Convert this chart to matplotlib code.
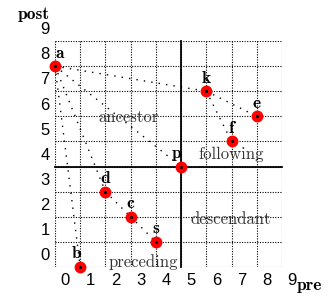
import numpy as np
import matplotlib
matplotlib.use("Agg")
import matplotlib.pyplot as plt

# nodes of the tree with their (pre, post) rank
nodes = ['a', 'b', 'd', 'c', 's', 'p', 'k', 'f', 'e']
pre = [0, 1, 2, 3, 4, 5, 6, 7, 8]
post = [8, 0, 3, 2, 1, 4, 7, 5, 6]

# parent -> child edges
edges = [('a', 'b'), ('a', 'd'), ('a', 'p'), ('a', 'k'),
         ('d', 'c'), ('c', 's'), ('k', 'f'), ('k', 'e')]

# context node
ctx = 'p'

regions = ['ancestor', 'following', 'descendant', 'preceding']
region_x = [2.9, 7.0, 6.95, 3.5]
region_y = [5.95, 4.5, 1.9, 0.2]

ticks = list(range(10))

pos = {n: (x, y) for n, x, y in zip(nodes, pre, post)}

# small horizontal nudges for a few node labels
label_dx = {'a': 0.2, 'b': -0.15, 'p': -0.2}

fig = plt.figure(figsize=(3.3, 2.97), dpi=100)
ax = fig.add_axes([55 / 330, 30 / 297, 227 / 330, 226 / 297])
ax.set_xlim(0, 9)
ax.set_ylim(0, 9)
ax.axis('off')

# dotted grid
ax.vlines(ticks, 0, 9, colors='black', linestyles=(0, (1, 1.3)), linewidth=0.8)
ax.hlines(ticks, 0, 9, colors='black', linestyles=(0, (1, 1.3)), linewidth=0.8)

# axes through the context node
cx, cy = pos[ctx]
ax.plot([cx, cx], [0, 9], color='black', linewidth=1.3, clip_on=False)
ax.plot([0, 9], [cy, cy], color='black', linewidth=1.3, clip_on=False)

# tree edges
for u, v in edges:
    ax.plot([pos[u][0], pos[v][0]], [pos[u][1], pos[v][1]], color='black',
            linestyle=(0, (1, 4.4)), linewidth=1.0, clip_on=False)

# nodes
ax.plot(pre, post, 'o', color='red', markersize=7.5, clip_on=False, zorder=5)
ax.plot(pre, post, 'o', color='black', markersize=1.2, clip_on=False, zorder=6)
for n, x, y in zip(nodes, pre, post):
    ax.text(x + label_dx.get(n, 0), y + 0.22, n, fontfamily='cmb10', fontsize=12.5,
            ha='center', va='bottom', zorder=7)

for r, x, y in zip(regions, region_x, region_y):
    ax.text(x, y, r, fontfamily='cmr10', fontsize=12, ha='center', va='center',
            color='#333333')

# tick labels, offset from the grid lines
for t in ticks:
    ax.text(t + 0.4, -0.52, str(t), fontfamily='Liberation Sans', fontsize=12,
            ha='center', va='center', clip_on=False)
    ax.text(-0.4, t + 0.45, str(t), fontfamily='Liberation Sans', fontsize=12,
            ha='center', va='center', clip_on=False)

ax.text(-0.85, 10.05, 'post', fontfamily='cmb10', fontsize=12.5, ha='center', va='center')
ax.text(10.1, -0.72, 'pre', fontfamily='cmb10', fontsize=12.5, ha='center', va='center')

fig.savefig('out.png', dpi=100)
